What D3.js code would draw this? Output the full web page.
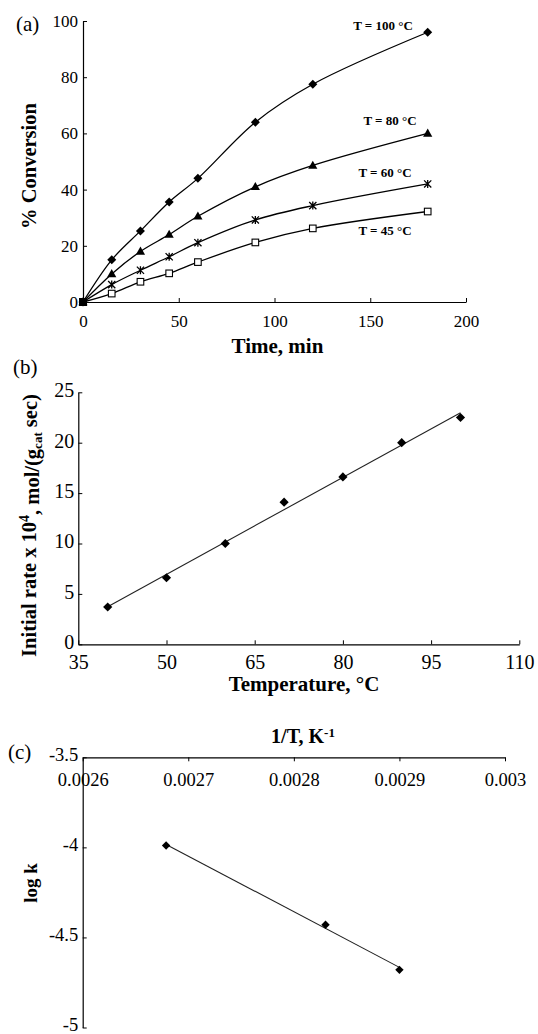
<!DOCTYPE html>
<html>
<head>
<meta charset="utf-8">
<script src="https://cdn.jsdelivr.net/npm/d3@7"></script>
<style>
  html, body { margin: 0; padding: 0; background: #fff; }
  svg { display: block; }
</style>
</head>
<body>
<script>
// ---------- Panel (a) data ----------
const timeMin = [0, 15, 30, 45, 60, 90, 120, 180];
const conv100 = [0, 15, 25.3, 35.6, 44, 64, 77.5, 96];
const conv80  = [0, 10, 18, 24, 30.5, 41, 48.6, 60];
const conv60  = [0, 6.2, 11.3, 16.1, 21.1, 29.2, 34.3, 42];
const conv45  = [0, 3, 7.2, 10.2, 14.2, 21.2, 26.2, 32.2];
const seriesLabelsA = ["T = 100 °C", "T = 80 °C", "T = 60 °C", "T = 45 °C"];
const xTicksA = [0, 50, 100, 150, 200];
const yTicksA = [0, 20, 40, 60, 80, 100];

// ---------- Panel (b) data ----------
const tempC = [40, 50, 60, 70, 80, 90, 100];
const rateE4 = [3.7, 6.6, 10, 14.1, 16.6, 20, 22.5];
const xTicksB = [35, 50, 65, 80, 95, 110];
const yTicksB = [0, 5, 10, 15, 20, 25];

// ---------- Panel (c) data ----------
const invT = [0.002679, 0.00283, 0.0029];
const logK = [-3.99, -4.43, -4.68];
const xTicksC = [0.0026, 0.0027, 0.0028, 0.0029, 0.003];
const xTickLabelsC = ["0.0026", "0.0027", "0.0028", "0.0029", "0.003"];
const yTicksC = [-3.5, -4, -4.5, -5];
const yTickLabelsC = ["-3.5", "-4", "-4.5", "-5"];

const W = 538, H = 1034;
const SERIF = "'Liberation Serif', 'Times New Roman', serif";

const svg = d3.select("body").append("svg")
  .attr("width", W).attr("height", H)
  .attr("font-family", SERIF);

function styleAxis(g, fs) {
  g.select(".domain").attr("stroke", "#000").attr("stroke-width", 1.2);
  g.selectAll(".tick line").attr("stroke", "#000").attr("stroke-width", 1);
  g.selectAll(".tick text").attr("fill", "#000").attr("font-size", fs)
    .attr("font-family", SERIF);
}

function linReg(xs, ys) {
  const n = xs.length;
  const mx = d3.mean(xs), my = d3.mean(ys);
  let sxy = 0, sxx = 0;
  for (let i = 0; i < n; i++) { sxy += (xs[i]-mx)*(ys[i]-my); sxx += (xs[i]-mx)*(xs[i]-mx); }
  const b = sxy / sxx;
  return { slope: b, intercept: my - b*mx };
}

function diamondPath(r) { return `M0,${-r}L${r},0L0,${r}L${-r},0Z`; }

// =================== Panel (a) ===================
const xA = d3.scaleLinear().domain([0, 200]).range([83, 466]);
const yA = d3.scaleLinear().domain([0, 100]).range([302, 21]);

const gA = svg.append("g");
gA.append("g").attr("transform", `translate(${xA(0)},0)`)
  .call(d3.axisLeft(yA).tickValues(yTicksA).tickFormat(d3.format("d"))
    .tickSize(-4).tickSizeOuter(0).tickPadding(5))
  .call(g => styleAxis(g, 17));
gA.append("g").attr("transform", `translate(0,${yA(0)})`)
  .call(d3.axisBottom(xA).tickValues(xTicksA).tickFormat(d3.format("d"))
    .tickSize(-4).tickSizeOuter(0).tickPadding(12.5))
  .call(g => styleAxis(g, 17));

const seriesA = [
  { vals: conv100, marker: "diamond", label: seriesLabelsA[0], lx: 383, ly: 25 },
  { vals: conv80,  marker: "triangle", label: seriesLabelsA[1], lx: 390, ly: 120 },
  { vals: conv60,  marker: "asterisk", label: seriesLabelsA[2], lx: 385, ly: 172 },
  { vals: conv45,  marker: "square", label: seriesLabelsA[3], lx: 385, ly: 230 }
];

const lineA = d3.line().x(d => xA(d[0])).y(d => yA(d[1])).curve(d3.curveCatmullRom.alpha(0.5));

seriesA.forEach(s => {
  const pts = timeMin.map((t, i) => [t, s.vals[i]]);
  gA.append("path").datum(pts).attr("d", lineA)
    .attr("fill", "none").attr("stroke", "#000").attr("stroke-width", 1.3);
});

seriesA.slice().reverse().forEach(s => {
  const pts = timeMin.map((t, i) => [t, s.vals[i]]);
  const g = gA.append("g");
  pts.forEach(p => {
    const cx = xA(p[0]), cy = yA(p[1]);
    const mg = g.append("g").attr("transform", `translate(${cx},${cy})`);
    if (s.marker === "diamond") {
      mg.append("path").attr("d", diamondPath(4.5)).attr("fill", "#000");
    } else if (s.marker === "triangle") {
      mg.append("path").attr("d", "M0,-4.8L4.6,3.3L-4.6,3.3Z").attr("fill", "#000");
    } else if (s.marker === "asterisk") {
      mg.append("path").attr("d", "M-3.6,-3.6L3.6,3.6M-3.6,3.6L3.6,-3.6M0,-4L0,4")
        .attr("stroke", "#000").attr("stroke-width", 1.3).attr("fill", "none");
    } else {
      mg.append("rect").attr("x", -3.3).attr("y", -3.3).attr("width", 6.6).attr("height", 6.6)
        .attr("fill", "#fff").attr("stroke", "#000").attr("stroke-width", 1.1);
    }
  });
});
gA.append("rect").attr("x", xA(0) - 4).attr("y", yA(0) - 4).attr("width", 8).attr("height", 8).attr("fill", "#000");

seriesA.forEach(s => {
  gA.append("text").attr("x", s.lx).attr("y", s.ly + 4.5)
    .attr("text-anchor", "middle").attr("font-weight", "bold").attr("font-size", 13)
    .text(s.label);
});

gA.append("text").attr("x", 277.5).attr("y", 353.3).attr("text-anchor", "middle")
  .attr("font-weight", "bold").attr("font-size", 21).text("Time, min");
gA.append("text").attr("transform", "translate(35.5,166) rotate(-90)").attr("text-anchor", "middle")
  .attr("font-weight", "bold").attr("font-size", 20.5).text("% Conversion");
gA.append("text").attr("x", 16).attr("y", 31).attr("font-size", 21).text("(a)");

// =================== Panel (b) ===================
const xB = d3.scaleLinear().domain([35, 110]).range([78.3, 519.3]);
const yB = d3.scaleLinear().domain([0, 25]).range([644.3, 392.3]);
const gB = svg.append("g");
gB.append("g").attr("transform", `translate(${xB(35)},0)`)
  .call(d3.axisLeft(yB).tickValues(yTicksB).tickFormat(d3.format("d"))
    .tickSize(-4).tickSizeOuter(0).tickPadding(4))
  .call(g => styleAxis(g, 20))
  .call(g => g.selectAll(".tick text").attr("dy", "0.22em"));
gB.append("g").attr("transform", `translate(0,${yB(0)})`)
  .call(d3.axisBottom(xB).tickValues(xTicksB).tickFormat(d3.format("d"))
    .tickSize(-4).tickSizeOuter(0).tickPadding(10.5))
  .call(g => styleAxis(g, 20));

const regB = linReg(tempC, rateE4);
const xBmin = d3.min(tempC), xBmax = d3.max(tempC);
gB.append("line")
  .attr("x1", xB(xBmin)).attr("y1", yB(regB.intercept + regB.slope * xBmin))
  .attr("x2", xB(xBmax)).attr("y2", yB(regB.intercept + regB.slope * xBmax))
  .attr("stroke", "#222").attr("stroke-width", 1.1);
tempC.forEach((t, i) => {
  gB.append("path").attr("transform", `translate(${xB(t)},${yB(rateE4[i])})`)
    .attr("d", diamondPath(4.6)).attr("fill", "#000");
});

gB.append("text").attr("x", 304).attr("y", 690.5).attr("text-anchor", "middle")
  .attr("font-weight", "bold").attr("font-size", 21).text("Temperature, °C");
{
  const t = gB.append("text").attr("transform", "translate(35.5,525.5) rotate(-90)")
    .attr("text-anchor", "middle").attr("font-weight", "bold").attr("font-size", 20.5);
  t.append("tspan").text("Initial rate x 10");
  t.append("tspan").attr("dy", "-0.5em").attr("font-size", 14).text("4");
  t.append("tspan").attr("dy", "0.5em").text(", mol/(g");
  t.append("tspan").attr("dy", "0.25em").attr("font-size", 13).text("cat");
  t.append("tspan").attr("dy", "-0.25em").text(" sec)");
}
gB.append("text").attr("x", 13).attr("y", 373.5).attr("font-size", 21).text("(b)");

// =================== Panel (c) ===================
const xC = d3.scaleLinear().domain([0.0026, 0.003]).range([82.7, 505]);
const yC = d3.scaleLinear().domain([-5, -3.5]).range([1027.5, 757.3]);
const gC = svg.append("g");
gC.append("g").attr("transform", `translate(${xC(0.0026)},0)`)
  .call(d3.axisLeft(yC).tickValues(yTicksC).tickFormat((d, i) => yTickLabelsC[i])
    .tickSize(-4).tickSizeOuter(0).tickPadding(4.5))
  .call(g => styleAxis(g, 18.5))
  .call(g => g.selectAll(".tick text").attr("dy", "0.15em"));
gC.append("g").attr("transform", `translate(0,${yC(-3.5)})`)
  .call(d3.axisBottom(xC).tickValues(xTicksC).tickFormat((d, i) => xTickLabelsC[i])
    .tickSize(4).tickSizeOuter(0).tickPadding(12))
  .call(g => styleAxis(g, 18.5));

const regC = linReg(invT, logK);
const xCmin = d3.min(invT), xCmax = d3.max(invT);
gC.append("line")
  .attr("x1", xC(xCmin)).attr("y1", yC(regC.intercept + regC.slope * xCmin))
  .attr("x2", xC(xCmax)).attr("y2", yC(regC.intercept + regC.slope * xCmax))
  .attr("stroke", "#222").attr("stroke-width", 1.1);
invT.forEach((v, i) => {
  gC.append("path").attr("transform", `translate(${xC(v)},${yC(logK[i])})`)
    .attr("d", diamondPath(4.2)).attr("fill", "#000");
});

{
  const t = gC.append("text").attr("x", 303).attr("y", 743).attr("text-anchor", "middle")
    .attr("font-weight", "bold").attr("font-size", 20);
  t.append("tspan").text("1/T, K");
  t.append("tspan").attr("dy", "-0.45em").attr("font-size", 13).text("-1");
}
gC.append("text").attr("transform", "translate(37,883) rotate(-90)").attr("text-anchor", "middle")
  .attr("font-weight", "bold").attr("font-size", 19).text("log k");
gC.append("text").attr("x", 8).attr("y", 759).attr("font-size", 21).text("(c)");
</script>
</body>
</html>
